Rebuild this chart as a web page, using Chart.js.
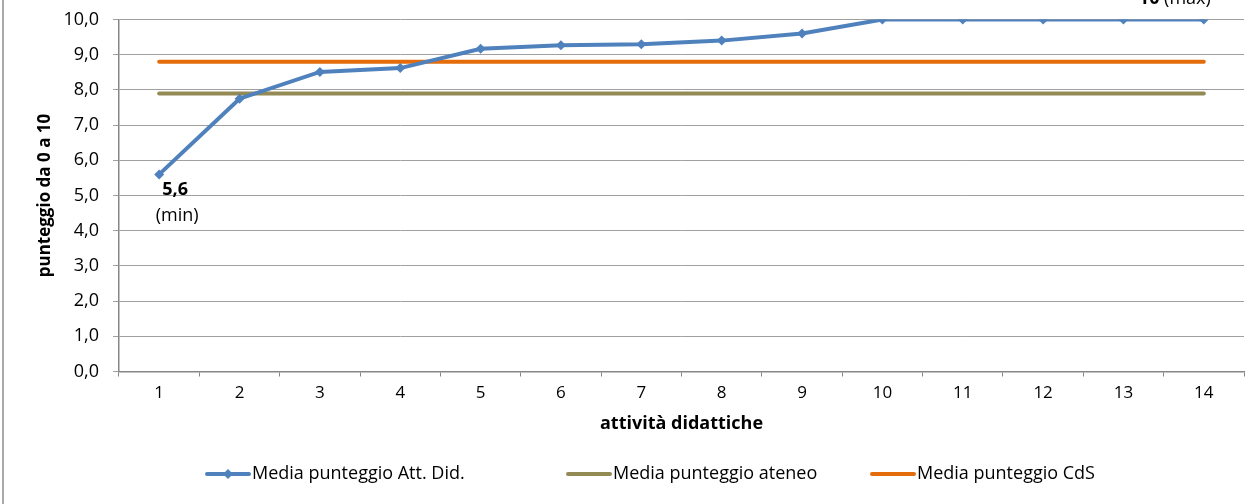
<!DOCTYPE html>
<html>
<head>
<meta charset="utf-8">
<script src="https://cdn.jsdelivr.net/npm/chart.js@4.4.1/dist/chart.umd.min.js"></script>
<style>
  html, body { margin: 0; padding: 0; background: #fff; }
  #wrap { position: relative; width: 1251px; height: 504px; }
</style>
</head>
<body>
<div id="wrap"><canvas id="chart" width="1251" height="504"></canvas></div>
<script>
// dati
const categories = ["1", "2", "3", "4", "5", "6", "7", "8", "9", "10", "11", "12", "13", "14"];
const mediaAttDid = [5.6, 7.75, 8.51, 8.62, 9.17, 9.27, 9.3, 9.4, 9.6, 10, 10, 10, 10, 10];
const mediaAteneo = [7.9, 7.9, 7.9, 7.9, 7.9, 7.9, 7.9, 7.9, 7.9, 7.9, 7.9, 7.9, 7.9, 7.9];
const mediaCdS = [8.8, 8.8, 8.8, 8.8, 8.8, 8.8, 8.8, 8.8, 8.8, 8.8, 8.8, 8.8, 8.8, 8.8];
const yTicks = [0, 1, 2, 3, 4, 5, 6, 7, 8, 9, 10];
const seriesNames = ["Media punteggio Att. Did.", "Media punteggio ateneo", "Media punteggio CdS"];

const FONT = "'Open Sans', Lato, sans-serif";
const BLUE = "#4F81BD";
const OLIVE = "#948A54";
const ORANGE = "#E46C0A";

function fmt(v) {
  return Number(v).toFixed(1).replace(".", ",");
}

// bordo sinistro della cornice
const framePlugin = {
  id: "frame",
  beforeDraw(chart) {
    const ctx = chart.ctx;
    ctx.save();
    ctx.strokeStyle = "#8c8c8c";
    ctx.lineWidth = 1.5;
    ctx.beginPath();
    ctx.moveTo(3, 0);
    ctx.lineTo(3, chart.height);
    ctx.stroke();
    ctx.restore();
  },
};

// etichette min / max sulla serie principale
const minMaxPlugin = {
  id: "minmax",
  afterDatasetsDraw(chart) {
    const ctx = chart.ctx;
    const meta = chart.getDatasetMeta(0);
    const minV = Math.min(...mediaAttDid);
    const maxV = Math.max(...mediaAttDid);
    const pMin = meta.data[mediaAttDid.indexOf(minV)];
    const pMax = meta.data[mediaAttDid.lastIndexOf(maxV)];
    ctx.save();
    ctx.fillStyle = "#000";
    ctx.textAlign = "center";
    ctx.textBaseline = "middle";
    ctx.font = "bold 18px " + FONT;
    ctx.fillText(fmt(minV), pMin.x + 16, pMin.y + 15);
    ctx.font = "18px " + FONT;
    ctx.fillText("(min)", pMin.x + 18, pMin.y + 41);

    // "10 (max)" in alto, quasi tagliato
    ctx.textBaseline = "alphabetic";
    ctx.textAlign = "left";
    const maxTxt = String(maxV);
    ctx.font = "18px " + FONT;
    const wRest = ctx.measureText(" (max)").width;
    ctx.font = "bold 18px " + FONT;
    const wNum = ctx.measureText(maxTxt).width;
    const x0 = pMax.x + 7 - wRest - wNum;
    const yb = pMax.y - 15.5;
    ctx.fillText(maxTxt, x0, yb);
    ctx.font = "18px " + FONT;
    ctx.fillText(" (max)", x0 + wNum, yb);
    ctx.restore();
  },
};

// legenda disegnata a mano (linea + marcatore)
const legendX = [205, 566, 870];
const legendPlugin = {
  id: "customLegend",
  afterDraw(chart) {
    const ctx = chart.ctx;
    const y = 474;
    const sw = 46;
    ctx.save();
    ctx.font = "18px " + FONT;
    chart.data.datasets.forEach((d, i) => {
      const x = legendX[i];
      ctx.strokeStyle = d.borderColor;
      ctx.lineWidth = 4;
      ctx.lineCap = "round";
      ctx.beginPath();
      ctx.moveTo(x + 2, y);
      ctx.lineTo(x + sw - 2, y);
      ctx.stroke();
      if (d.pointRadius > 0) {
        const cx = x + sw / 2;
        const r = 5;
        ctx.fillStyle = d.borderColor;
        ctx.beginPath();
        ctx.moveTo(cx, y - r);
        ctx.lineTo(cx + r, y);
        ctx.lineTo(cx, y + r);
        ctx.lineTo(cx - r, y);
        ctx.closePath();
        ctx.fill();
      }
      ctx.fillStyle = "#000";
      ctx.textBaseline = "middle";
      ctx.textAlign = "left";
      ctx.fillText(d.label, x + sw + 1, y);
    });
    ctx.restore();
  },
};

const ctx = document.getElementById("chart").getContext("2d");
new Chart(ctx, {
  type: "line",
  data: {
    labels: categories,
    datasets: [
      {
        label: seriesNames[0],
        data: mediaAttDid,
        borderColor: BLUE,
        backgroundColor: BLUE,
        borderWidth: 4,
        pointStyle: "rectRot",
        pointRadius: 5,
        pointBorderWidth: 0,
        pointBackgroundColor: BLUE,
        tension: 0,
      },
      {
        label: seriesNames[1],
        data: mediaAteneo,
        borderColor: OLIVE,
        backgroundColor: OLIVE,
        borderWidth: 4,
        borderCapStyle: "round",
        pointRadius: 0,
        tension: 0,
      },
      {
        label: seriesNames[2],
        data: mediaCdS,
        borderColor: ORANGE,
        backgroundColor: ORANGE,
        borderWidth: 4,
        borderCapStyle: "round",
        pointRadius: 0,
        tension: 0,
      },
    ],
  },
  options: {
    responsive: false,
    animation: false,
    layout: { padding: { top: 19.5, right: 7, bottom: 57.5, left: 0 } },
    plugins: {
      legend: { display: false },
      tooltip: { enabled: false },
    },
    scales: {
      x: {
        offset: true,
        grid: {
          offset: true,
          drawOnChartArea: false,
          drawTicks: true,
          tickLength: 5,
          color: "#868686",
        },
        border: { color: "#868686", width: 1.5 },
        ticks: {
          color: "#000",
          padding: 6,
          maxRotation: 0,
          font: { family: FONT, size: 17 },
        },
        title: {
          display: true,
          text: "attività didattiche",
          color: "#000",
          font: { family: FONT, size: 18, weight: "bold" },
          padding: { top: 0, bottom: 12.2 },
        },
        afterFit(scale) {
          scale.height = 75;
        },
      },
      y: {
        min: 0,
        max: 10,
        afterBuildTicks(scale) {
          scale.ticks = yTicks.map((v) => ({ value: v }));
        },
        grid: {
          color: "#a0a0a0",
          lineWidth: 1,
          tickLength: 6,
        },
        border: { color: "#868686", width: 1.5 },
        ticks: {
          color: "#000",
          padding: 14,
          font: { family: FONT, size: 18 },
          callback: (v) => fmt(v),
        },
        title: {
          display: true,
          text: "punteggio da 0 a 10",
          color: "#000",
          font: { family: FONT, size: 17, weight: "bold" },
          padding: { top: 34.8, bottom: 0 },
        },
        afterFit(scale) {
          scale.width = 119;
          scale.paddingTop = 0;
          scale.paddingBottom = 0;
        },
      },
    },
  },
  plugins: [framePlugin, minMaxPlugin, legendPlugin],
});
</script>
</body>
</html>
